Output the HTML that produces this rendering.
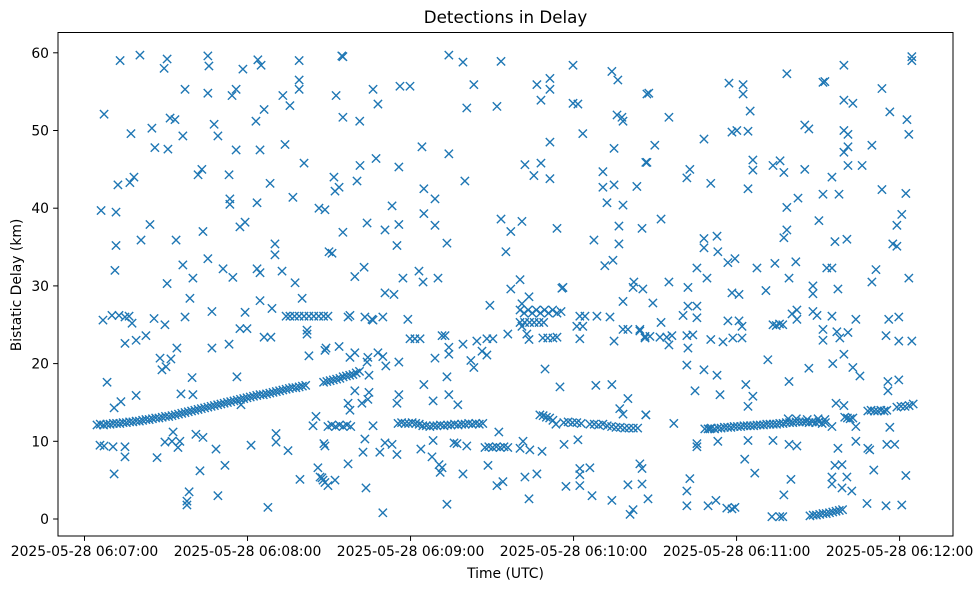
<!DOCTYPE html>
<html><head><meta charset="utf-8"><style>
html,body{margin:0;padding:0;background:#fff;}
svg{display:block;font-family:"DejaVu Sans","Liberation Sans",sans-serif;}
</style></head><body>
<svg id="chart" width="980" height="590" viewBox="0 0 980 590" xmlns="http://www.w3.org/2000/svg">
<rect x="0" y="0" width="980" height="590" fill="#fff"/>
<text x="505.5" y="23" font-size="16.7" text-anchor="middle" fill="#000">Detections in Delay</text>
<text x="505.5" y="578" font-size="13.9" text-anchor="middle" fill="#000">Time (UTC)</text>
<text transform="translate(21,285) rotate(-90)" font-size="13.9" text-anchor="middle" fill="#000">Bistatic Delay (km)</text>
<g id="marks"></g>
<g id="axes"></g>
<rect x="58" y="32.5" width="895" height="503.5" fill="none" stroke="#000" stroke-width="1"/>
</svg>
<script>
// time in seconds after 2025-05-28 06:07:00, delay in km
const xTickSeconds = [0, 60, 120, 180, 240, 300];
const xTickLabels = ["2025-05-28 06:07:00","2025-05-28 06:08:00","2025-05-28 06:09:00","2025-05-28 06:10:00","2025-05-28 06:11:00","2025-05-28 06:12:00"];
const yTicks = [0, 10, 20, 30, 40, 50, 60];

const trackT = [4.6,5.8,7,8.2,9.4,10.6,11.8,13,14.2,15.4,16.6,17.8,19,20.2,21.4,22.6,23.8,25,26.2,27.4,28.6,29.8,31,32.2,33.4,34.6,35.8,37,38.2,39.4,40.6,41.8,43,44.2,45.4,46.6,47.8,49,50.2,51.4,52.6,53.8,55,56.2,57.4,58.6,59.8,61,62.2,63.4,64.6,65.8,67,68.2,69.4,70.6,71.8,73,74.2,75.4,76.6,77.8,79,80.2,81.4,88,89.2,90.4,91.6,92.8,94,95.2,96.4,97.6,98.8,100,101.2,
74.2,75.6,77.3,79,80.8,82.6,84.4,86.2,88,89.6,
89.6,91,92.4,93.8,95.2,96.6,98,
115.4,116.7,118,119.3,120.6,121.9,123.2,124.5,125.8,127.1,128.4,129.7,131,132.3,133.6,134.9,136.2,137.5,138.8,140.1,141.4,142.7,144,145.3,146.6,
147.4,148.8,150.2,151.6,153,154.4,155.8,
160.3,161.8,163.3,164.8,166.3,167.8,169.3,170.8,172.3,173.9,175.4,
160.3,162,163.8,165.5,167.3,169,168.7,170.5,172.4,
167.6,168.8,170,171.2,172.4,173.5,176.4,178,179.6,181.2,182.8,186,187.6,189.2,190.8,192.4,194,195.6,197.2,198.8,200.4,202,203.6,
228.3,229.5,230.7,231.9,233.1,234.3,235.5,236.7,237.9,239.1,240.3,241.5,242.7,243.9,245.1,246.3,247.5,248.7,249.9,251.1,252.3,253.5,254.7,255.9,257.1,258.3,259.5,260.7,261.9,263.1,264.3,265.5,266.7,267.9,269.1,270.3,271.5,272.7,259,262,266,270,272.5,
279.8,280.8,281.8,282.8,288.3,289.5,290.7,291.9,293.1,294.3,295.3,299,300.5,302,303.5,305,
267,268.2,269.4,270.6,271.8,273,274.2,275.4,276.6,277.8,279];
const trackKm = [12.1,12.2,12.1,12.2,12.2,12.3,12.3,12.3,12.4,12.4,12.5,12.5,12.6,12.6,12.7,12.8,12.8,12.9,13.0,13.0,13.1,13.2,13.2,13.3,13.4,13.5,13.6,13.7,13.8,13.9,14.0,14.1,14.2,14.3,14.4,14.5,14.6,14.7,14.8,14.9,15.0,15.1,15.2,15.3,15.4,15.5,15.6,15.7,15.8,15.9,16.0,16.0,16.1,16.2,16.3,16.4,16.5,16.6,16.7,16.8,16.9,16.9,17.0,17.1,17.2,17.6,17.7,17.8,17.9,18.0,18.1,18.3,18.4,18.5,18.6,18.8,19.0,
26.1,26.1,26.1,26.1,26.1,26.1,26.1,26.1,26.1,26.1,
11.9,12.1,11.9,12.1,11.9,12.1,11.9,
12.3,12.4,12.3,12.3,12.4,12.3,12.2,12.0,12.0,11.9,12.0,12.0,12.1,12.0,12.1,12.1,12.2,12.1,12.2,12.2,12.3,12.2,12.3,12.2,12.3,
9.2,9.3,9.2,9.3,9.2,9.3,9.2,
26.9,26.5,26.9,26.5,26.9,26.5,26.9,26.5,26.9,26.5,26.7,
25.3,25.3,25.3,25.3,25.3,25.3,23.3,23.3,23.3,
13.4,13.3,13.1,13.0,12.7,12.2,12.4,12.5,12.4,12.4,12.3,12.2,12.2,12.1,12.2,12.0,11.9,11.8,11.8,11.7,11.7,11.7,11.7,
11.6,11.6,11.7,11.6,11.7,11.7,11.8,11.8,11.8,11.9,11.9,11.9,12.0,12.0,12.0,12.0,12.1,12.1,12.1,12.2,12.2,12.2,12.2,12.3,12.3,12.4,12.4,12.4,12.5,12.5,12.5,12.5,12.4,12.5,12.4,12.5,12.3,12.4,12.9,12.9,12.8,12.9,12.8,
13.1,13.0,12.9,13.0,13.9,14.0,13.9,13.9,14.0,13.9,14.0,14.4,14.5,14.5,14.6,14.8,
0.4,0.5,0.5,0.6,0.7,0.7,0.8,0.9,1.0,1.1,1.2];

const scatterT = [6.1,6.8,7.2,5.7,7.2,8.3,10.1,10.5,10.9,10.9,11.2,11.6,11.6,12.3,12.7,13.1,13.4,14.9,14.9,14.9,14.9,16.4,16.7,17.1,17.5,18.2,19,19,20.4,20.8,22.6,24.1,24.8,25.6,25.9,26.7,27.8,28.5,29.3,29.6,29.6,30,30.4,30.4,30.7,31.5,31.8,32.2,32.6,33.3,33.7,34,34.4,35.1,35.5,36.2,36.2,37,37,37.7,37.7,38.5,38.8,39.6,39.9,39.9,41,41.8,42.5,43.2,43.6,43.6,45.4,45.4,45.4,45.8,46.9,46.9,47.7,48.4,49.1,49.1,51,51.7,53.2,53.2,53.5,53.5,54.3,54.6,55.8,55.8,56.1,57.2,57.2,57.6,58.3,59.1,59.1,59.8,61.3,63.1,63.5,63.5,63.8,64.6,64.6,64.6,65,66.1,66.1,67.5,68.3,69,68.6,70.1,70.1,70.5,70.5,72.7,73,73.8,74.9,75.6,76.7,77.5,79,79,79,79.3,80.1,80.8,81.9,81.9,82.6,84.1,85.2,85.9,86.3,87.4,88.1,88.5,88.9,90,
94.7,95.1,92.6,95.1,101.3,106.2,108,116.1,119.8,134.1,139.3,143.3,140.7,153.3,151.8,166.5,171.3,171.3,168,179.8,179.8,181.6,183.4,194.1,196.3,196,197.8,198.2,207,124.2,134.1,171.3,194.9,207,91.8,92.2,93.7,101.4,100.3,107.3,115.7,140,162.1,168,165.4,171.3,190.8,190.8,194.9,203.3,124.9,129,88.5,113.2,124.9,192.3,198.2,95.1,104,110.6,115.7,129,153.3,156.9,161,173.9,196.7,205.2,91.1,115,133.4,155.1,187.5,196.7,99.5,102.9,117.2,123.1,124.6,130.1,191.5,194.5,156.9,160.3,110.6,113.9,176.1,175.7,202.2,201.9,205.5,149.2,163.6,161,198.2,
97,97.7,103.2,105.8,106.2,109.8,119,119.8,121.6,123.5,131.6,132.7,134.1,134.1,139.3,144.4,148.1,150.3,146.3,148.1,155.8,161,162.8,163.6,173.9,182.3,184.2,188.6,193.4,181.2,183.4,182.3,194.9,198.2,200,204.4,206.3,208.1,88.5,93.7,97.7,99.5,104.3,104,104.7,108,109.8,110.9,115.7,129,142.2,143.3,133.4,169.5,175,99.5,97,97.7,102.1,104.7,104.3,115.7,115,124.9,128.3,134.1,137.4,188.2,194.1,200,197,198.2,206.6,106.2,
88.5,103.2,102.5,108.7,110.6,113.2,115,123.8,128.3,127.9,136,137.1,140.7,152.5,160.3,161.4,163.9,168.4,176.5,181.6,97,86.7,87.8,89.6,92.2,103.6,130.5,131.6,130.9,139.3,148.5,151.8,154,162.1,166.5,163.6,177.2,182.3,182.3,186,182.3,186.8,194.1,200,205.2,204.4,205.2,200.8,201.9,109.8,133.4,207.4,
304.5,304.5,279.5,258.5,271.8,272.5,237.2,242.4,242.4,293.5,207.7,215.1,245,279.5,282.8,296.4,302.7,303.4,228,238.3,240.1,244.2,265.1,266.6,279.5,281,209.9,289.8,279.5,281,206.6,246,246,221.7,222.8,230.5,253.4,256,257.4,265.1,281,286.2,244.2,275.1,293.5,302.3,271.8,277.7,262.6,258.5,300.8,212.2,270.3,299,257.4,258.5,232.8,228,228,233.1,276.2,280.6,297.5,299,236.8,239.4,225.4,247.5,254.1,261.8,273.2,275.1,291.3,229.1,259.3,303.4,215.1,289.8,222.1,238.3,240.9,250.8,268.1,268.1,277.3,209.2,222.1,225.4,220.3,225.4,236.8,240.9,242,212.2,253.4,254.6,255.8,257,260.4,262.2,262.2,268.1,269.6,275.1,283.9,296,299.7,
204.4,206.3,211.8,214.3,216.2,215.1,221.7,223.9,222.1,230.5,235,238.6,242,271.8,271.8,276.9,278,281,295,299.7,304.5,251.5,266.6,275.4,279.5,282.8,285.4,221.7,228,232.8,243.4,246,224.7,233.9,259.3,295.7,299.7,295.7,244.2,276.6,279.5,206.6,216.9,230.2,233.1,
283.9,283.9,296.4,295.3,298.2,244.2,253.4,259.3,262.2,225.4,225.4,277.3,288.3,289,276.2,278.8,275.1,275.1,278.8,280.6,282.4,290.5,302.3,243,246.7,260,222.8,221.7,221.7,229.5,232.4,236.4,238.3,239.4,253,255.9,257,257.4,288,295,300.8,275.1];
const scatterKm = [39.7,25.6,52.1,9.5,9.4,17.6,26.2,9.3,14.3,5.8,32,35.2,39.5,43,26.2,59,15.1,22.6,9.3,8,26,26.1,43.3,49.6,25.2,44,23,15.9,59.7,35.9,23.6,37.9,50.3,25.8,47.8,7.9,20.7,19.2,58,25,9.9,19.6,59.2,30.3,47.6,51.6,20.6,10,11.2,51.4,35.9,22,9.2,10,16.1,49.3,32.7,55.3,26,2.3,1.8,3.5,28.4,18.2,16,31,10.9,44.3,6.2,45,37,10.5,59.6,33.5,54.8,58.3,26.7,22,50.8,9,49.3,3,32.2,6.9,44.3,22.5,41.2,40.5,54.5,31.1,55.3,47.5,18.3,37.6,24.5,14.7,57.9,26.6,38.2,24.5,9.5,51.2,40.7,32.2,59.1,31.7,47.5,28.1,58.4,23.4,52.7,1.5,43.2,27.1,23.4,35.4,34,11,9.9,31.9,54.5,48.2,8.8,53.2,41.4,30.4,56.5,55.3,59,5.1,28.4,45.8,24.3,23.8,21,12,13.2,6.6,40,5.3,9.7,4.7,22,34.4,
59.6,59.5,54.5,51.7,51.2,55.3,53.4,55.7,55.7,59.7,58.8,55.9,52.9,58.9,53.1,55.9,56.7,55.3,53.9,58.4,53.5,53.4,49.6,57.6,56.5,52,51.7,51.2,54.7,47.9,47,48.5,47.7,45.9,44,42.2,42.7,45.5,43.5,46.4,45.3,43.5,45.6,45.8,44.2,43.8,44.7,42.7,43,42.8,42.5,41.2,39.8,40.3,39.3,40.7,40.4,36.9,38.1,37.2,37.9,37.8,38.6,37,38.3,37.4,37.7,37.4,34.2,35.2,35.5,34.4,35.9,35.4,31.2,32.4,31,31.9,30.5,31,32.6,33.3,29.6,30.8,29.1,28.9,29.8,29.7,30.5,29.8,29.6,27.5,28.6,27.7,28,
26,26.2,26,25.7,25.6,26,25.7,23.2,23.2,23.2,23.6,23.6,22.1,21.2,22.5,22.9,23.2,23.2,21.6,21.1,23.8,24.8,23.8,23.1,23.4,26.1,26.1,26.1,26,24.8,24.8,23.2,22.9,24.4,24.4,24.2,23.5,23.5,21.7,22.2,20.8,21.4,20.8,20.2,18.5,21.4,20.9,19.7,20.2,20.7,20.4,19.5,18.3,19.3,17,16.5,14.9,14,14.9,16.3,15.4,16,14.9,17.3,15.2,16,14.7,17.2,17.3,15.5,14.2,13.5,13.4,12,
9.4,10.3,8.6,8.6,9.8,9.6,8.3,9,10.1,8,9.8,9.7,9.4,11.2,9.1,10,8.9,8.7,9.6,10.2,7.1,5.4,5,4.3,5,4,7,6.6,6,5.8,6.9,4.3,4.8,5.4,5.8,2.6,4.2,6.5,5.7,6.6,4.3,3,2.4,4.4,4.5,7.1,6.5,0.6,1.2,0.8,1.9,2.6,
59.5,59,58.4,57.3,56.2,56.3,56.1,55.9,54.7,55.4,54.8,51.7,52.5,53.9,53.5,52.4,51.4,49.5,48.9,49.8,50,49.9,50.7,50.2,50,49.5,48.1,48.1,47.2,47.9,45.9,46.2,44.9,43.9,45,43.2,45.5,46.1,44.6,45,45.5,45.5,42.5,44,42.4,41.9,41.8,41.8,41.3,40.1,39.2,38.6,38.4,37.8,36.2,37.2,36.4,36.1,34.9,34.4,35.7,36,35.4,35.1,33,33.5,32.3,32.3,32.9,33.1,32.3,32.3,32.1,31,31,31,30.5,30.5,29.8,29.1,28.9,29.4,30,29,29.6,27.8,27.4,27.4,26.2,25.9,25.5,25.5,24.8,25.3,25,24.9,25.1,25,26.4,26.9,25.7,26.7,26.2,26.1,25.7,25.7,26,
24.4,23.3,23.4,23.4,23.6,22.4,23.6,23.7,22,23.1,22.8,23.3,23.3,24.4,23,24.1,23.3,24,23.6,22.9,22.9,20.5,19.4,20,21.2,19.5,18.4,19.8,19.2,18.5,17.3,15.8,16.5,16,17.7,17.7,17.9,16.5,14.5,14.9,14.6,13.4,12.3,11.6,10,
11.9,10,11.8,9.6,9.6,10.1,10.1,9.6,9.4,9.7,9.3,9.1,9.1,8.9,6.9,7,5.4,4.5,4,5.4,3.6,6.3,5.6,7.7,5.9,5.1,5.2,3.6,1.7,1.7,2.4,1.4,1.3,1.5,0.3,0.3,0.3,3.1,2,1.7,1.8,11.9];

const X0 = 84.5, PX_PER_SEC = 2.717;
const Y0 = 519, PX_PER_KM = 7.77;
function xScale(s){ return X0 + s*PX_PER_SEC; }
function yScale(v){ return Y0 - v*PX_PER_KM; }

const NS = "http://www.w3.org/2000/svg";
const marks = document.getElementById('marks');
const axes = document.getElementById('axes');
function drawX(t, v, name){
  const cx = xScale(t), cy = yScale(v), r = 4.15;
  const p = document.createElementNS(NS, 'path');
  p.setAttribute('d', `M${cx-r},${cy-r}L${cx+r},${cy+r}M${cx-r},${cy+r}L${cx+r},${cy-r}`);
  p.setAttribute('stroke', '#1f77b4');
  p.setAttribute('stroke-width', '1.4');
  p.setAttribute('fill', 'none');
  
  
  marks.appendChild(p);
}
for (let i = 0; i < trackT.length; i++) drawX(trackT[i], trackKm[i], 'track-point');
for (let i = 0; i < scatterT.length; i++) drawX(scatterT[i], scatterKm[i], 'detection-point');

yTicks.forEach(v => {
  const y = yScale(v);
  const l = document.createElementNS(NS, 'line');
  l.setAttribute('x1', 53.1); l.setAttribute('x2', 58); l.setAttribute('y1', y); l.setAttribute('y2', y);
  l.setAttribute('stroke', '#000'); l.setAttribute('stroke-width', '1');
  
  
  axes.appendChild(l);
  const t = document.createElementNS(NS, 'text');
  t.setAttribute('x', 49); t.setAttribute('y', y + 5);
  t.setAttribute('font-size', '13.9'); t.setAttribute('text-anchor', 'end');
  t.textContent = String(v);
  
  
  axes.appendChild(t);
});
xTickSeconds.forEach((s, i) => {
  const x = xScale(s);
  const l = document.createElementNS(NS, 'line');
  l.setAttribute('x1', x); l.setAttribute('x2', x); l.setAttribute('y1', 536); l.setAttribute('y2', 540.9);
  l.setAttribute('stroke', '#000'); l.setAttribute('stroke-width', '1');
  
  
  axes.appendChild(l);
  const t = document.createElementNS(NS, 'text');
  t.setAttribute('x', x); t.setAttribute('y', 556);
  t.setAttribute('font-size', '13.9'); t.setAttribute('text-anchor', 'middle');
  t.textContent = xTickLabels[i];
  
  
  axes.appendChild(t);
});
</script>
</body></html>
